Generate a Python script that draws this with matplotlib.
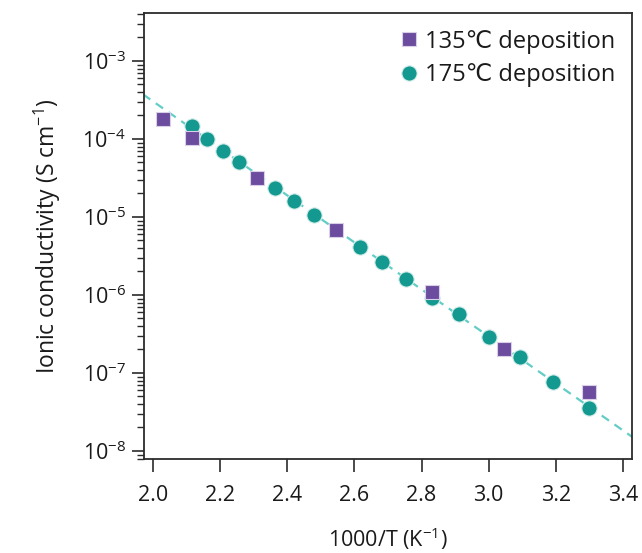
import numpy as np
import matplotlib
matplotlib.use("Agg")
import matplotlib.pyplot as plt
from matplotlib.ticker import LogLocator, FuncFormatter, NullFormatter

plt.rcParams['font.family'] = ['Open Sans', 'DejaVu Sans']
plt.rcParams['mathtext.fontset'] = 'custom'
plt.rcParams['mathtext.rm'] = 'Open Sans'
plt.rcParams['mathtext.it'] = 'Open Sans'

# 135 C deposited film
x_135 = [2.029, 2.115, 2.311, 2.545, 2.832, 3.046, 3.300]
sig_135 = [1.80e-4, 1.04e-4, 3.13e-5, 6.8e-6, 1.10e-6, 2.05e-7, 5.66e-8]

# 175 C deposited film
x_175 = [2.115, 2.160, 2.208, 2.256, 2.363, 2.420, 2.480, 2.617, 2.681,
         2.754, 2.832, 2.912, 3.002, 3.094, 3.192, 3.300]
sig_175 = [1.47e-4, 1.0e-4, 7.08e-5, 5.03e-5, 2.38e-5, 1.62e-5, 1.06e-5,
           4.16e-6, 2.67e-6, 1.62e-6, 9.08e-7, 5.71e-7, 2.92e-7, 1.62e-7,
           7.67e-8, 3.59e-8]

xticks = [2.0, 2.2, 2.4, 2.6, 2.8, 3.0, 3.2, 3.4]

purple = '#6b4c9e'
teal = '#13998f'
fit_col = '#63cdc6'
ink = '#2b2b2b'

fig = plt.figure(figsize=(6.42, 5.53), dpi=100)
ax = fig.add_axes([0.2243, 0.170, 0.7601, 0.8065])

# Arrhenius fit through the 175 C points
b, a = np.polyfit(x_175, np.log10(sig_175), 1)
xf = np.linspace(1.97, 3.43, 50)
ax.plot(xf, 10 ** (a + b * xf), ls=(0, (4, 3)), color=fit_col, lw=1.6, zorder=1)

ax.plot(x_175, sig_175, 'o', ms=11, color=teal, mec='#d8efec', mew=0.8,
        label='175\u2103 deposition', zorder=2)
ax.plot(x_135, sig_135, 's', ms=10.5, color=purple, mec='#d9cfe8', mew=0.8,
        label='135\u2103 deposition', zorder=3)

ax.set_yscale('log')
ax.set_xlim(1.973, 3.427)
ax.set_ylim(10 ** -8.103, 10 ** -2.385)
ax.set_xticks(xticks)
ax.set_xticklabels([f'{v:.1f}' for v in xticks])

ax.yaxis.set_major_locator(LogLocator(base=10, numticks=20))
ax.yaxis.set_minor_locator(LogLocator(base=10, subs=np.arange(2, 10), numticks=20))
ax.yaxis.set_minor_formatter(NullFormatter())
ax.yaxis.set_major_formatter(FuncFormatter(
    lambda v, p: r'$\mathregular{10^{%d}}$' % round(np.log10(v))))

for s in ax.spines.values():
    s.set_color(ink)
    s.set_linewidth(1.3)
ax.tick_params(which='major', direction='out', length=9, width=1.2, color=ink,
               labelsize=15.5, labelcolor='#1a1a1a', pad=4)
ax.tick_params(which='minor', direction='out', length=5, width=1.0, color=ink)
ax.tick_params(axis='x', pad=10)

ax.set_xlabel('1000/T (K$^{-1}$)', fontsize=15.5, color='#1a1a1a', labelpad=14)
ax.set_ylabel('Ionic conductivity (S cm$^{-1}$)', fontsize=16.5, color='#1a1a1a', labelpad=14)

h, l = ax.get_legend_handles_labels()
ax.legend(h[::-1], l[::-1], loc='upper right', frameon=False, fontsize=17,
          handletextpad=0.1, labelspacing=0.4, borderaxespad=0.3,
          handlelength=1.2, markerscale=1.0, labelcolor='#1a1a1a')

fig.savefig('out.png', dpi=100)
